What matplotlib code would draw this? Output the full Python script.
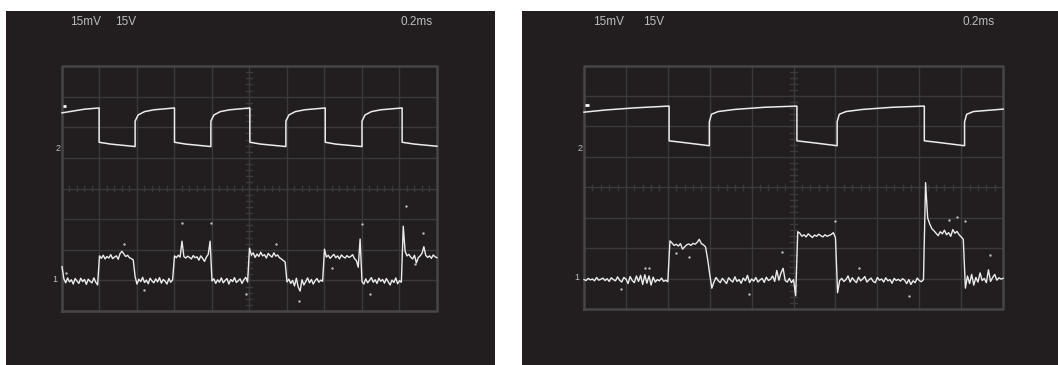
import matplotlib
matplotlib.use("Agg")
import matplotlib.pyplot as plt
import numpy as np

# ---- data (graticule divisions: x 0..10, y -4..4) ----
sample_step = 0.05  # div per ch1 sample

ch1_left = [
    -2.55, -2.95, -3.08, -2.92, -3.05, -2.98, -3.12, -2.94, -3.02, -3.10,
    -2.93, -3.04, -2.97, -3.13, -2.96, -3.03, -3.08, -2.92, -3.06, -3.15,
    -2.20, -2.28, -2.18, -2.30, -2.22, -2.27, -2.16, -2.29, -2.24, -2.20,
    -2.31, -2.12, -2.05, -2.14, -2.22, -2.18, -2.26, -2.29, -2.33,
    -2.88, -3.12, -2.96, -3.04, -2.90, -3.07, -2.99, -3.11, -2.93, -3.02,
    -3.08, -2.95, -3.05, -2.91, -3.09, -2.97, -3.03, -3.12, -2.94, -3.06, -2.98,
    -2.20, -2.26, -2.18, -2.24, -1.72, -2.22, -2.27, -2.21, -2.25, -2.30,
    -2.19, -2.26, -2.23, -2.34, -2.20, -2.28, -2.38, -2.24, -2.15, -1.72,
    -3.02, -2.95, -3.10, -2.98, -3.06, -2.92, -3.08, -3.00, -2.94, -3.12,
    -2.97, -3.04, -2.91, -3.07, -3.01, -2.95, -3.10, -2.98, -2.90, -3.05,
    -1.95, -2.18, -2.10, -2.25, -2.14, -2.22, -2.08, -2.20, -2.16, -2.27,
    -2.12, -2.19, -2.24, -2.10, -2.21, -2.17, -2.26, -2.30, -2.35, -2.40,
    -3.05, -2.96, -3.10, -3.00, -3.18, -2.93, -3.22, -3.35, -2.98, -3.15,
    -3.04, -2.92, -3.08, -2.97, -3.12, -3.01, -2.94, -3.06, -2.99, -3.03,
    -1.98, -2.24, -2.18, -2.28, -2.21, -2.15, -2.26, -2.20, -2.30, -2.17,
    -2.23, -2.27, -2.19, -2.25, -2.22, -2.16, -2.29, -2.35, -2.57, -1.65,
    -3.04, -3.12, -2.95, -3.08, -3.00, -2.91, -3.06, -2.98, -3.10, -2.93,
    -3.03, -2.97, -3.09, -2.94, -3.05, -3.15, -2.99, -3.07, -2.92, -3.11,
    -3.01, -3.06,
    -1.23, -2.05, -2.20, -2.15, -2.24, -2.30, -2.18, -2.43, -2.26, -2.20,
    -2.12, -1.90, -2.18, -2.25, -2.20, -2.28, -2.17, -2.23, -2.26,
]

ch1_right = [
    -3.02, -3.05, -2.98, -3.03, -3.00, -3.06, -2.95, -3.04, -3.01, -2.97,
    -3.05, -2.99, -3.08, -2.96, -3.02, -3.06, -2.93, -3.04, -3.10, -2.95,
    -3.00, -3.15, -2.92, -3.05, -3.12, -2.90, -3.08, -2.88, -3.18, -2.86,
    -3.14, -2.90, -3.20, -2.94, -3.10, -3.02, -3.06, -2.97, -3.08, -3.04, -3.09,
    -1.75, -1.82, -1.90, -1.86, -1.92, -1.84, -2.02, -1.95, -1.88, -1.85,
    -1.90, -1.83, -1.86, -1.80, -1.70, -1.84, -1.88, -1.95, -2.35,
    -2.85, -3.30, -3.10, -2.95, -3.05, -3.12, -2.98, -3.06, -3.15, -2.96,
    -3.04, -3.10, -2.93, -3.08, -3.02, -3.14, -2.97, -3.06, -2.88, -3.12,
    -3.00, -3.07, -2.95, -3.10, -3.03, -2.98, -3.11, -2.94, -3.05, -3.01,
    -2.90, -3.08, -2.72, -3.04, -2.80, -2.65, -3.05, -3.10, -2.98, -3.12,
    -3.02, -3.55,
    -1.45, -1.50, -1.60, -1.55, -1.62, -1.52, -1.58, -1.64, -1.56, -1.60,
    -1.53, -1.58, -1.62, -1.55, -1.60, -1.57, -1.54, -1.48, -1.65,
    -3.45, -3.05, -2.98, -3.08, -3.02, -2.90, -3.10, -2.96, -3.05, -3.12,
    -2.94, -3.06, -3.00, -2.92, -3.10, -3.03, -2.97, -3.08, -3.12, -2.95,
    -3.04, -3.00, -3.10, -2.96, -3.06, -3.02, -3.14, -2.98, -3.05, -3.01,
    -3.07, -2.99, -3.04, -3.15, -3.02, -3.18, -3.06, -3.12, -2.97, -3.05,
    -3.09, -3.02,
    0.16, -1.00, -1.20, -1.35, -1.42, -1.50, -1.58, -1.45, -1.52, -1.40,
    -1.55, -1.48, -1.60, -1.38, -1.50, -1.44, -1.55, -1.62, -1.70,
    -3.30, -2.90, -3.15, -2.85, -3.20, -2.95, -3.10, -2.80, -3.05, -2.98,
    -3.12, -2.70, -3.08, -2.95, -2.85, -3.04, -2.96, -3.00, -2.98,
]

ch2_left_t = [0, 0.3, 0.6, 0.99, 0.99, 1.3, 1.95, 1.95, 2.03, 2.2, 2.45, 3.00,
              3.00, 3.3, 3.97, 3.97, 4.05, 4.22, 4.47, 5.01,
              5.01, 5.3, 5.97, 5.97, 6.05, 6.22, 6.47, 7.02,
              7.02, 7.3, 8.00, 8.00, 8.08, 8.25, 8.5, 9.07,
              9.07, 9.4, 10.0]
ch2_left_v = [2.47, 2.53, 2.59, 2.63, 1.51, 1.45, 1.37, 2.20, 2.40, 2.51, 2.57, 2.63,
              1.51, 1.45, 1.37, 2.20, 2.40, 2.51, 2.57, 2.63,
              1.51, 1.45, 1.37, 2.20, 2.40, 2.51, 2.57, 2.63,
              1.51, 1.45, 1.37, 2.20, 2.40, 2.51, 2.57, 2.63,
              1.51, 1.45, 1.38]

ch2_right_t = [0, 0.5, 1.2, 2.03, 2.03, 2.4, 2.99, 2.99, 3.04, 3.2, 3.6, 4.3, 5.08,
               5.08, 5.45, 6.04, 6.04, 6.09, 6.25, 6.65, 7.35, 8.12,
               8.12, 8.5, 9.08, 9.08, 9.13, 9.29, 10.0]
ch2_right_v = [2.47, 2.54, 2.61, 2.67, 1.53, 1.47, 1.37, 2.15, 2.40, 2.49, 2.56, 2.63, 2.67,
               1.53, 1.47, 1.37, 2.15, 2.40, 2.49, 2.56, 2.63, 2.67,
               1.53, 1.47, 1.37, 2.15, 2.40, 2.49, 2.57]

dots_left_t = [1.66, 3.21, 3.97, 8.01, 9.17, 5.71, 9.63, 6.32, 4.92, 8.21, 9.41, 0.1, 2.2, 7.2]
dots_left_v = [-1.81, -1.12, -1.12, -1.16, -0.57, -1.82, -1.46, -3.68, -3.45, -3.45, -2.45, -2.75, -3.3, -2.6]
dots_right_t = [5.98, 9.09, 8.9, 8.7, 4.73, 6.56, 9.68, 7.76, 0.88, 3.94, 2.2, 2.5, 1.46, 1.54]
dots_right_v = [-1.09, -1.09, -0.96, -1.07, -2.10, -2.65, -2.21, -3.56, -3.33, -3.48, -2.15, -2.27, -2.64, -2.64]

header = ["15mV", "15V", "0.2ms"]
header_x = [0.21, 1.41, 9.04]

BG = "#221e1f"
GRID = "#3b393a"
BORDER = "#474546"
TRACE = "#ececec"
TEXT = "#bdbdbd"
FONT = ["Liberation Sans", "DejaVu Sans"]

fig = plt.figure(figsize=(10.58, 3.65), dpi=100)
fig.patch.set_facecolor("white")


def scope(rect, xlim, ylim, ch1, ch2_t, ch2_v, dots_t, dots_v):
    ax = fig.add_axes(rect)
    ax.set_facecolor(BG)
    ax.set_xlim(*xlim)
    ax.set_ylim(*ylim)
    ax.set_xticks([])
    ax.set_yticks([])
    for s in ax.spines.values():
        s.set_visible(False)

    # graticule
    for x in range(1, 10):
        ax.plot([x, x], [-4, 4], color=GRID, lw=1.0, zorder=1)
    for y in range(-3, 4):
        ax.plot([0, 10], [y, y], color=GRID, lw=1.0, zorder=1)
    ax.plot([0, 10, 10, 0, 0], [-4, -4, 4, 4, -4], color=BORDER, lw=1.8, zorder=1)
    for x in np.arange(0.2, 10, 0.2):
        ax.plot([x, x], [-0.07, 0.07], color=GRID, lw=1.0, zorder=1)
    for y in np.arange(-3.8, 4, 0.2):
        ax.plot([4.92, 5.08], [y, y], color=GRID, lw=1.0, zorder=1)

    t1 = np.arange(len(ch1)) * sample_step
    ax.plot(t1, ch1, color=TRACE, lw=1.0, zorder=3)
    ax.plot(ch2_t, ch2_v, color=TRACE, lw=1.1, zorder=3)
    ax.scatter(dots_t, dots_v, s=3, color="#bbbbbb", linewidths=0, zorder=2)

    # trigger marker and channel labels
    ax.plot([0.03, 0.12], [2.7, 2.7], color="white", lw=2, solid_capstyle="butt", zorder=4)
    ax.text(-0.04, 1.29, "2", color=TEXT, fontsize=6.5, ha="right", va="center", family=FONT)
    ax.text(-0.12, -2.96, "1", color=TEXT, fontsize=6.5, ha="right", va="center", family=FONT)

    for lbl, x in zip(header, header_x):
        ax.text(x, 5.43, lbl, color=TEXT, fontsize=8.5, ha="left", va="center", family=FONT)
    return ax


W, H = 1058.0, 365.0
scope([6 / W, 0, 489 / W, 354 / H], (-1.493, 11.547), (-5.763, 5.796),
      ch1_left, ch2_left_t, ch2_left_v, dots_left_t, dots_left_v)
scope([522 / W, 0, 536 / W, 354 / H], (-1.48, 11.31), (-5.82, 5.787),
      ch1_right, ch2_right_t, ch2_right_v, dots_right_t, dots_right_v)

fig.savefig("out.png", dpi=100, facecolor=fig.get_facecolor())
